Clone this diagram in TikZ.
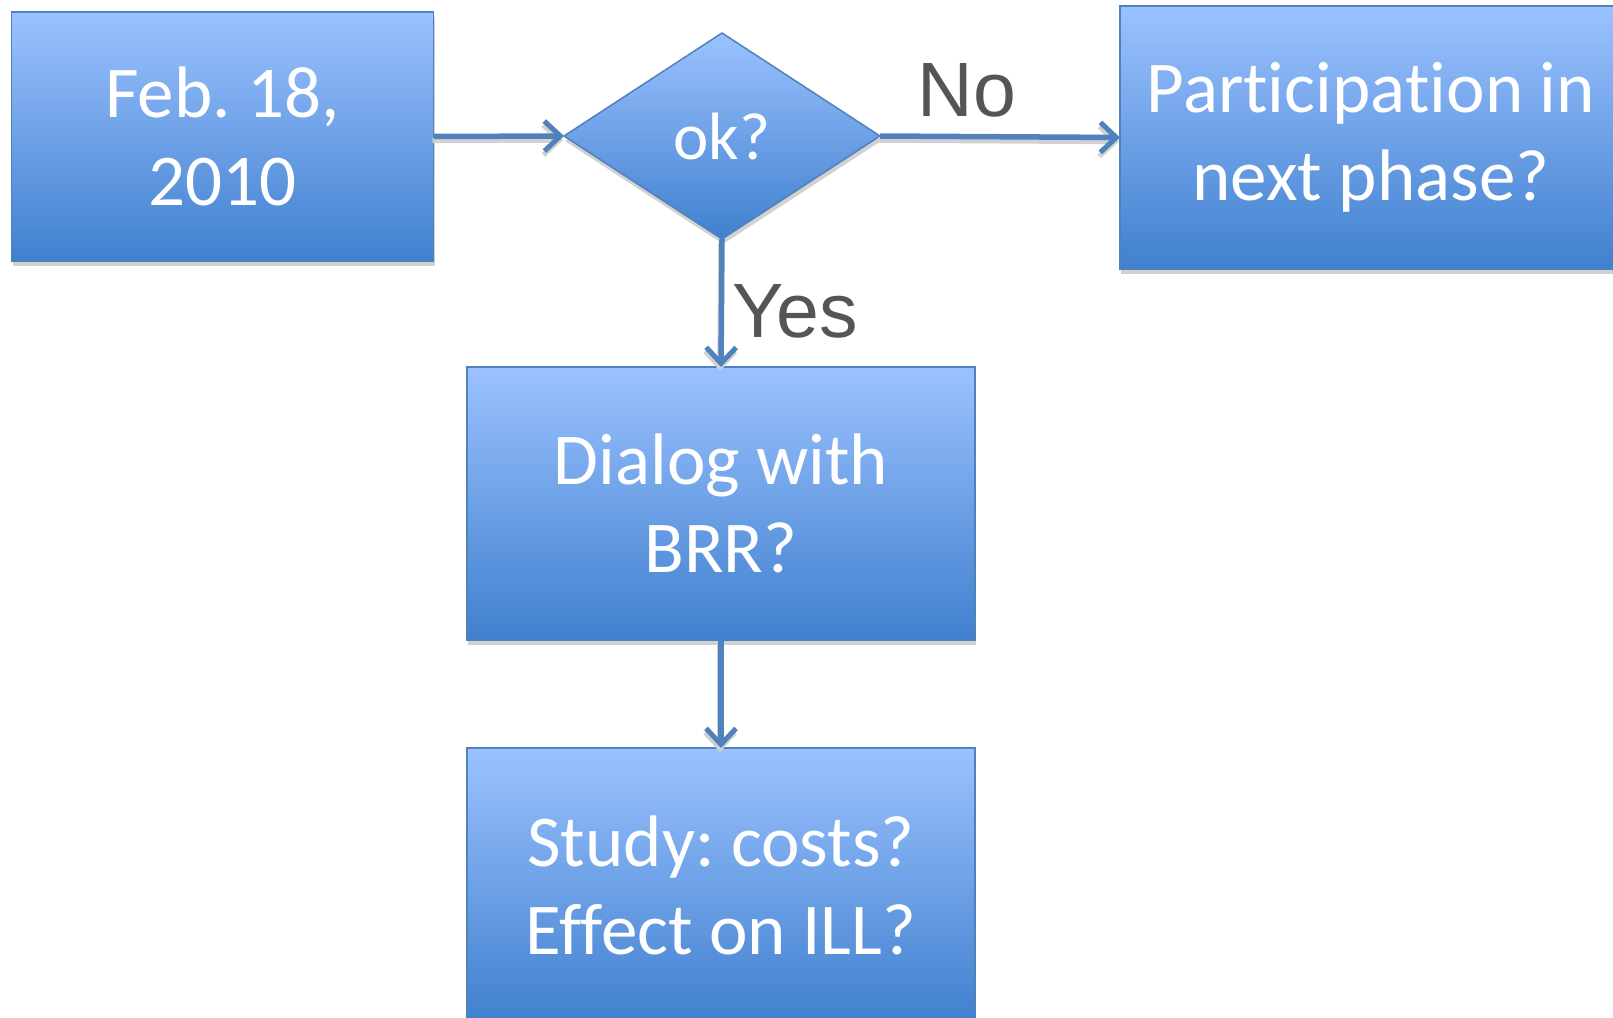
\documentclass[tikz,border=0pt]{standalone}
\usepackage{fontspec}
\setmainfont[Ligatures=NoCommon,RawFeature={-liga;-clig;-calt;-dlig}]{Carlito}
\newfontfamily\labelfont{Liberation Sans}
\usetikzlibrary{shapes.geometric,arrows.meta,shadows}
\definecolor{boxtop}{RGB}{155,194,255}
\definecolor{boxbot}{RGB}{64,128,206}
\definecolor{edgeblue}{RGB}{79,129,189}
\definecolor{lblgray}{RGB}{85,85,85}
\frenchspacing
\begin{document}
\begin{tikzpicture}[x=1pt,y=-1pt,
  boxbase/.style={draw=edgeblue, line width=1.5pt, top color=boxtop, bottom color=boxbot,
    text=white, align=center, inner sep=0pt, outer sep=0pt,
    font=\fontsize{73}{88}\selectfont,
    drop shadow={shadow xshift=1pt, shadow yshift=-5pt, fill=black!18, opacity=1}},
  decision/.style={boxbase, shape=diamond, aspect=1.534, font=\fontsize{67}{80}\selectfont},
  flow/.style={draw=edgeblue, line width=5.5pt,
    -{Straight Barb[length=16pt,width=30pt,line width=5pt]}},
  flowshadow/.style={draw=black!18, line width=5.5pt,
    -{Straight Barb[length=16pt,width=30pt,line width=5pt]}, transform canvas={xshift=-1pt,yshift=-4pt}},
  lbl/.style={font=\labelfont\fontsize{77}{90}\selectfont, text=lblgray, inner sep=0pt}]
\useasboundingbox (0,0) rectangle (1613,1017);
\fill[white] (0,0) rectangle (1613,1017);
\clip (0,0) rectangle (1613,1017);

\node[boxbase, minimum width=422pt, minimum height=249pt] (feb) at (222.5,136.5) {Feb. 18,\\2010};
\node[decision, minimum width=316pt, minimum height=206pt] (ok) at (722,136) {ok?};
\node[boxbase, minimum width=502pt, minimum height=263pt] (part) at (1371,137.5) {Participa\kern0pt tion in\\next phase?};
\node[boxbase, minimum width=508pt, minimum height=273pt] (dialog) at (721,503.5) {Dialog with\\BRR?};
\node[boxbase, minimum width=508pt, minimum height=274pt] (study) at (721,885) {Study: costs?\\Effect on ILL?};

\draw[flowshadow] (feb.east) -- (ok.west);
\draw[flowshadow] (ok.east) -- (part.west);
\draw[flowshadow] (ok.south) -- (dialog.north);
\draw[flowshadow] (dialog.south) -- (study.north);

\draw[flow] (feb.east) -- (ok.west);
\draw[flow] (ok.east) -- (part.west);
\draw[flow] (ok.south) -- (dialog.north);
\draw[flow] (dialog.south) -- (study.north);

\node[lbl] (no) at (967,90) {No};
\node[lbl] (yes) at (795,311) {Yes};
\end{tikzpicture}
\end{document}
